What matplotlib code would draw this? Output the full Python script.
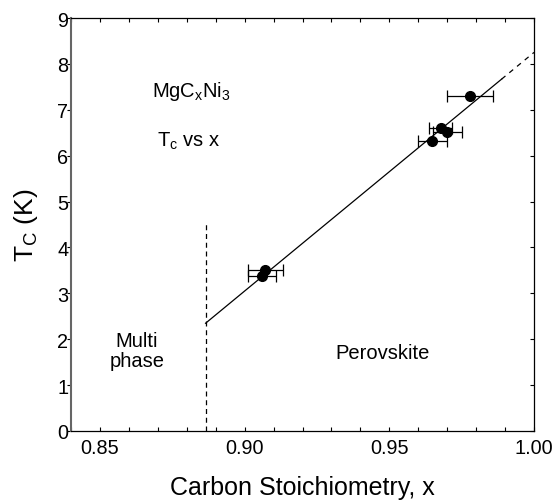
import numpy as np
import matplotlib
matplotlib.use("Agg")
import matplotlib.pyplot as plt
from matplotlib.ticker import MultipleLocator

# --- DATA ---
carbon_x = [0.9060, 0.9071, 0.9648, 0.9678, 0.9700, 0.9780]
tc_vals = [3.38, 3.51, 6.32, 6.60, 6.51, 7.30]
x_err = [0.005, 0.006, 0.005, 0.004, 0.005, 0.008]

# linear fit Tc = slope * x + intercept
fit_slope = 52.0
fit_intercept = -43.75
fit_solid_x = [0.8865, 0.9888]
fit_dash_x = [0.9888, 1.00]

# phase boundary
boundary_x = 0.8865
boundary_top = 4.58

x_ticks = [0.85, 0.90, 0.95, 1.00]
x_tick_labels = ["0.85", "0.90", "0.95", "1.00"]
y_ticks = list(range(10))

# --- STYLE ---
plt.rcParams['font.family'] = ['Liberation Sans', 'DejaVu Sans']
plt.rcParams['mathtext.fontset'] = 'custom'
plt.rcParams['mathtext.rm'] = 'Liberation Sans'
plt.rcParams['mathtext.it'] = 'Liberation Sans'

fig = plt.figure(figsize=(5.55, 5.02), dpi=100)
ax = fig.add_axes([71 / 555, 1 - 432 / 502, (534 - 71) / 555, (432 - 19) / 502])

# fit line
fx = np.array(fit_solid_x)
ax.plot(fx, fit_slope * fx + fit_intercept, color='black', lw=0.9)
dx = np.array(fit_dash_x)
ax.plot(dx, fit_slope * dx + fit_intercept, color='black', lw=0.9,
        ls=(0, (4, 4)))

# boundary
ax.plot([boundary_x, boundary_x], [0, boundary_top], color='black', lw=0.9,
        ls=(0, (4, 3)))

# data
ax.errorbar(carbon_x, tc_vals, xerr=x_err, fmt='o', color='black',
            ms=7, elinewidth=0.9, capsize=4, capthick=0.9, zorder=3)

# annotations
fs = 14.5
ax.text(0.8681, 7.30, r"$\mathregular{MgC_xNi_3}$", fontsize=fs,
        ha='left', va='baseline')
ax.text(0.8698, 6.22, r"$\mathregular{T_c}$ vs x", fontsize=fs,
        ha='left', va='baseline')
ax.text(0.8627, 1.85, "Multi", fontsize=fs, ha='center', va='baseline')
ax.text(0.8627, 1.42, "phase", fontsize=fs, ha='center', va='baseline')
ax.text(0.9477, 1.58, "Perovskite", fontsize=fs, ha='center', va='baseline')

# axes
ax.set_xlim(0.84, 1.00)
ax.set_ylim(0, 9)
ax.set_xticks(x_ticks)
ax.set_xticklabels(x_tick_labels)
ax.set_yticks(y_ticks)
ax.xaxis.set_minor_locator(MultipleLocator(0.01))

ax.tick_params(axis='x', which='both', direction='in', top=True,
               length=3, width=0.8, labelsize=14.3, pad=5)
ax.tick_params(axis='y', which='major', direction='in', right=True,
               length=3, width=0.8, labelsize=14.3, pad=2)
for t in ax.yaxis.get_major_ticks():
    t.tick1line.set_marker(matplotlib.lines.TICKLEFT)

for side in ['top', 'right', 'bottom']:
    ax.spines[side].set_linewidth(0.9)
ax.spines['left'].set_linewidth(1.5)
ax.spines['left'].set_color('#666666')

ax.set_xlabel("Carbon Stoichiometry, x", fontsize=18, labelpad=13)
ax.set_ylabel(r"$\mathregular{T_C}$ (K)", fontsize=19, labelpad=12)

fig.savefig("out.png", dpi=100)
